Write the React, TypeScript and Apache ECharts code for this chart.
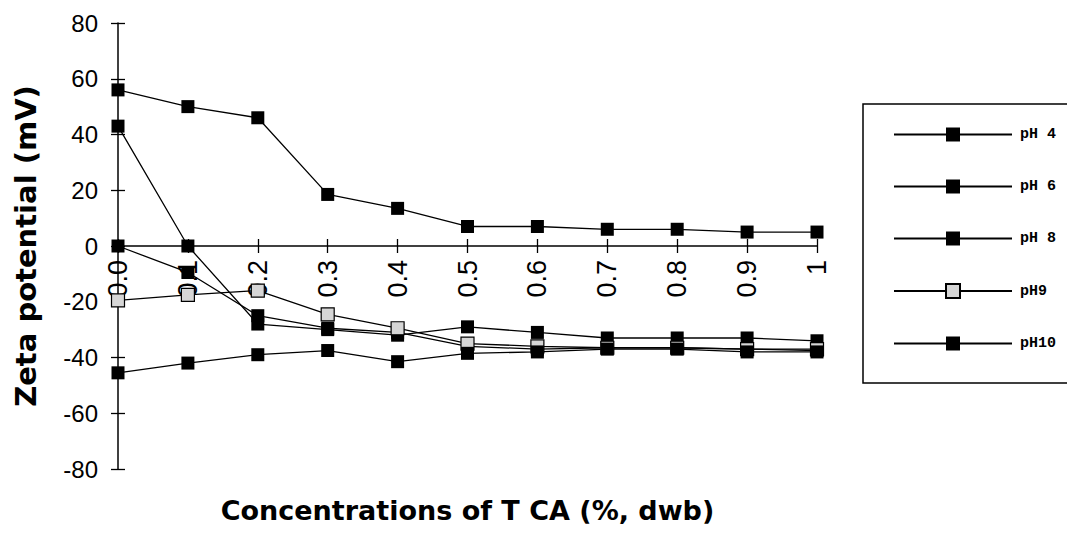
import React, { useEffect, useRef } from "react";
import * as echarts from "echarts";

const categories = ["0.0", "0.1", "0.2", "0.3", "0.4", "0.5", "0.6", "0.7", "0.8", "0.9", "1"];
const ph4 = [56, 50, 46, 18.5, 13.5, 7, 7, 6, 6, 5, 5];
const ph6 = [43, 0, -28, -30, -32, -29, -31, -33, -33, -33, -34];
const ph8 = [0, -9.5, -25, -29.5, -31, -36, -37, -36.5, -36.5, -37, -37.5];
const ph9 = [-19.5, -17.5, -16, -24.5, -29.5, -35, -36, -36.5, -36.5, -37, -37];
const ph10 = [-45.5, -42, -39, -37.5, -41.5, -38.5, -38, -37, -37, -38, -38];
const seriesNames = ["pH 4", "pH 6", "pH 8", "pH9", "pH10"];
const seriesValues = [ph4, ph6, ph8, ph9, ph10];
const yMin = -80;
const yMax = 80;
const yStep = 20;

export default function App() {
  const ref = useRef<HTMLDivElement>(null);
  useEffect(() => {
    if (!ref.current) return;
    const chart = echarts.init(ref.current, undefined, { renderer: "svg" });
    const labelFont = "'Liberation Sans', Arial, sans-serif";
    const gridTop = 23;
    const gridBottom = 79;
    const plotH = 548 - gridTop - gridBottom;
    // offset the x axis from the grid bottom up to the zero line
    const zeroOffset = -(plotH * (0 - yMin)) / (yMax - yMin);
    const series = seriesValues.map((vals, i) => ({
      name: seriesNames[i],
      type: "line",
      xAxisIndex: 0,
      yAxisIndex: 0,
      data: vals,
      symbol: "rect",
      symbolSize: 13,
      lineStyle: { color: "#000", width: 1.3 },
      itemStyle:
        i === 3
          ? { color: "#d6d6d6", borderColor: "#000", borderWidth: 1.2 }
          : { color: "#000" },
      emphasis: { disabled: true },
    }));
    chart.setOption({
      animation: false,
      backgroundColor: "#fff",
      grid: { left: 118, right: 250, top: gridTop, bottom: gridBottom, outerBoundsMode: "none" },
      xAxis: [
        {
          type: "category",
          data: categories,
          boundaryGap: false,
          position: "bottom",
          offset: zeroOffset,
          axisLine: { show: true, onZero: false, lineStyle: { color: "#000", width: 1.5 } },
          axisTick: { show: true, length: 7, interval: 0, lineStyle: { color: "#000", width: 1.3 } },
          axisLabel: {
            interval: 0,
            rotate: 90,
            margin: 14,
            fontSize: 27,
            color: "#000",
            fontFamily: labelFont,
          },
          splitLine: { show: false },
          name: "Concentrations of T CA (%, dwb)",
          nameLocation: "middle",
          nameGap: 251,
          nameTextStyle: {
            fontFamily: "'DejaVu Sans', sans-serif",
            fontWeight: "bold",
            fontSize: 27,
            color: "#000",
          },
        },
        {
          type: "category",
          data: categories,
          boundaryGap: false,
          position: "bottom",
          offset: zeroOffset,
          axisLine: { show: false, onZero: false },
          axisTick: { show: true, inside: true, length: 7, interval: 0, lineStyle: { color: "#000", width: 1.3 } },
          axisLabel: { show: false },
          splitLine: { show: false },
        },
      ],
      yAxis: [
        {
          type: "value",
          min: yMin,
          max: yMax,
          interval: yStep,
          position: "left",
          axisLine: { show: true, lineStyle: { color: "#000", width: 1.5 } },
          axisTick: { show: true, length: 7, lineStyle: { color: "#000", width: 1.3 } },
          axisLabel: { margin: 20, fontSize: 24, color: "#000", fontFamily: labelFont },
          splitLine: { show: false },
          name: "Zeta potential (mV)",
          nameLocation: "middle",
          nameGap: 78,
          nameTextStyle: {
            fontFamily: "'DejaVu Sans', sans-serif",
            fontWeight: "bold",
            fontSize: 29,
            color: "#000",
          },
        },
        {
          type: "value",
          min: yMin,
          max: yMax,
          interval: yStep,
          position: "left",
          axisLine: { show: false },
          axisTick: { show: true, inside: true, length: 7, lineStyle: { color: "#000", width: 1.3 } },
          axisLabel: { show: false },
          splitLine: { show: false },
        },
      ],
      legend: {
        orient: "vertical",
        left: 888,
        top: 122,
        itemWidth: 118,
        itemHeight: 17.5,
        itemGap: 37,
        selectedMode: false,
        data: seriesNames,
        textStyle: {
          fontFamily: "'Liberation Mono', 'DejaVu Sans Mono', monospace",
          fontWeight: "bold",
          fontSize: 15,
          color: "#000",
          padding: [0, 0, 0, 3],
        },
      },
      graphic: [
        {
          type: "rect",
          shape: { x: 863, y: 104, width: 240, height: 279 },
          style: { fill: "none", stroke: "#000", lineWidth: 1.5 },
        },
      ],
      series,
    });
    return () => chart.dispose();
  }, []);
  return (
    <div
      ref={ref}
      style={{ position: "absolute", left: 0, top: 0, width: 1067, height: 548 }}
    />
  );
}
